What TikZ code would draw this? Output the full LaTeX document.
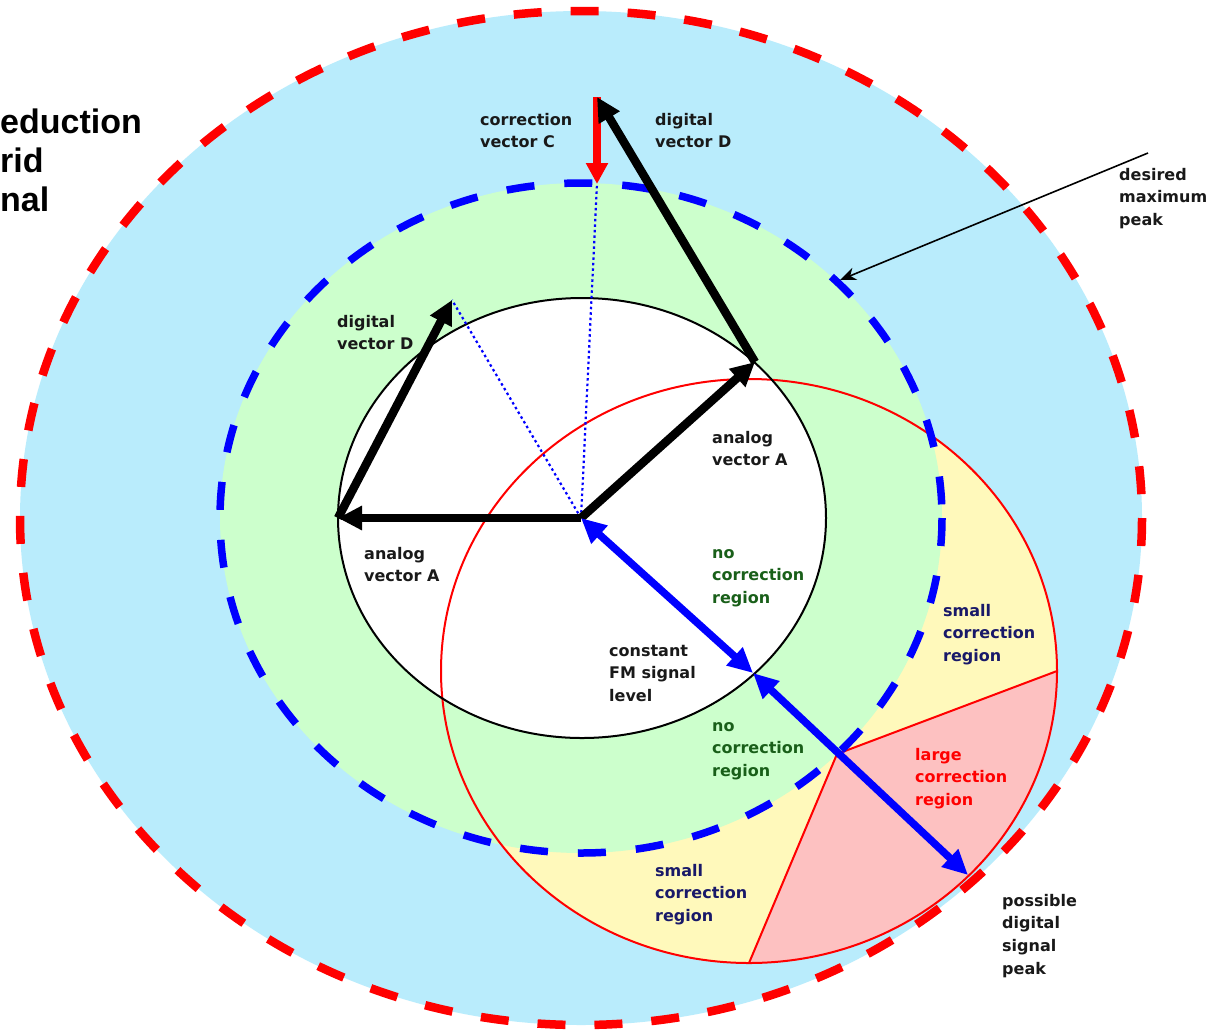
\documentclass[tikz,border=0pt]{standalone}
\usepackage{fontspec}
\setmainfont{DejaVu Sans}
\newfontfamily\headfont{Liberation Sans}
\usetikzlibrary{arrows.meta}
\definecolor{skyfill}{RGB}{185,236,252}
\definecolor{greenfill}{RGB}{204,255,204}
\definecolor{yellowfill}{RGB}{255,249,187}
\definecolor{pinkfill}{RGB}{253,193,193}
\definecolor{dgreentxt}{RGB}{25,95,25}
\definecolor{navytxt}{RGB}{25,25,105}
\definecolor{blacktxt}{RGB}{25,25,25}
\tikzset{
  lbl/.style={anchor=base west, inner sep=0pt, align=left,
    font=\fontsize{16}{22.8}\selectfont\bfseries, text=blacktxt},
  heading/.style={anchor=base west, inner sep=0pt, align=left,
    font=\headfont\fontsize{34}{39}\selectfont\bfseries},
  vecarrow/.style={line width=8.5pt, line join=round, -{Triangle[length=24pt,width=23pt]}},
  bluearrow/.style={blue, line width=7.5pt,
    {Triangle[length=25pt,width=23pt]}-{Triangle[length=25pt,width=23pt]}},
  corrarrow/.style={red, line width=7.5pt, -{Triangle[length=21pt,width=21pt]}},
  dotline/.style={blue, line width=2.2pt, dash pattern=on 2.5pt off 3pt},
  outerring/.style={red, line width=8.5pt, dash pattern=on 28pt off 29pt},
  bluering/.style={blue, line width=7.5pt, dash pattern=on 28pt off 30pt},
  thinred/.style={red, line width=2pt},
  callout/.style={black, line width=1.6pt, -{Stealth[length=16pt,width=13pt,inset=5pt]}}
}
\begin{document}
\begin{tikzpicture}[x=1pt,y=-1pt]
\useasboundingbox (0,0) rectangle (1215,1029);
\fill[white] (0,0) rectangle (1215,1029);

% fills
\fill[skyfill] (581,518) ellipse [x radius=561, y radius=507];
\fill[yellowfill] (749,671) ellipse [x radius=308, y radius=292];
\fill[greenfill] (581,518) ellipse [x radius=361, y radius=335];
\fill[white] (582,518) ellipse [x radius=244, y radius=220];

% key points
\coordinate (O) at (581,518);
\coordinate (A1) at (338,518);
\coordinate (D1) at (452,300);
\coordinate (A2) at (755,362);
\coordinate (D2) at (597,97);
\coordinate (Cend) at (597,184);
\coordinate (E) at (753,673);
\coordinate (P) at (837,754);
\coordinate (F) at (968,875);
\coordinate (R0) at (1057,671);
\coordinate (R90) at (749,963);
\coordinate (callstart) at (1148,153);
\coordinate (callend) at (840,280);

% large correction wedge
\fill[pinkfill] (P) -- (R0) arc[start angle=0, end angle=90, x radius=308, y radius=292] -- cycle;

% outlines
\draw[thinred] (749,671) ellipse [x radius=308, y radius=292];
\draw[thinred] (R0) -- (P) -- (R90);
\draw[black, line width=2pt] (582,518) ellipse [x radius=244, y radius=220];
\draw[bluering] (581,518) ellipse [x radius=361, y radius=335];
\draw[outerring] (581,518) ellipse [x radius=561, y radius=507];

% dotted projections
\draw[dotline] (O) -- (D1);
\draw[dotline] (O) -- (Cend);

% vectors
\draw[corrarrow] (D2) -- (Cend);
\draw[vecarrow] (O) -- (A1);
\draw[vecarrow] (A1) -- (D1);
\draw[vecarrow] (O) -- (A2);
\draw[vecarrow] (A2) -- (D2);
\draw[bluearrow] (O) -- (E);
\draw[bluearrow] (E) -- (F);

% callout
\draw[callout] (callstart) -- (callend);

% heading (cut off at left edge); anchor is the last line's baseline
\node[heading] (head) at (0,211) {eduction\\rid\\nal};

% labels (anchor = baseline of the last line)
\node[lbl] (lcorr) at (480,147.8) {correction\\vector C};
\node[lbl] (ldigtop) at (655,147.8) {digital\\vector D};
\node[lbl] (ldesired) at (1119,225.6) {desired\\maximum\\peak};
\node[lbl] (ldigleft) at (337,349.8) {digital\\vector D};
\node[lbl] (lanaup) at (712,465.8) {analog\\vector A};
\node[lbl] (lanaleft) at (364,581.8) {analog\\vector A};
\node[lbl, text=dgreentxt] (lnocorr1) at (712,603.6) {no\\correction\\region};
\node[lbl] (lconst) at (609,701.6) {constant\\FM signal\\level};
\node[lbl, text=navytxt] (lsmall1) at (943,661.6) {small\\correction\\region};
\node[lbl, text=dgreentxt] (lnocorr2) at (712,776.6) {no\\correction\\region};
\node[lbl, text=red] (llarge) at (915,805.6) {large\\correction\\region};
\node[lbl, text=navytxt] (lsmall2) at (655,921.6) {small\\correction\\region};
\node[lbl] (lpossible) at (1002,974.4) {possible\\digital\\signal\\peak};
\end{tikzpicture}
\end{document}
